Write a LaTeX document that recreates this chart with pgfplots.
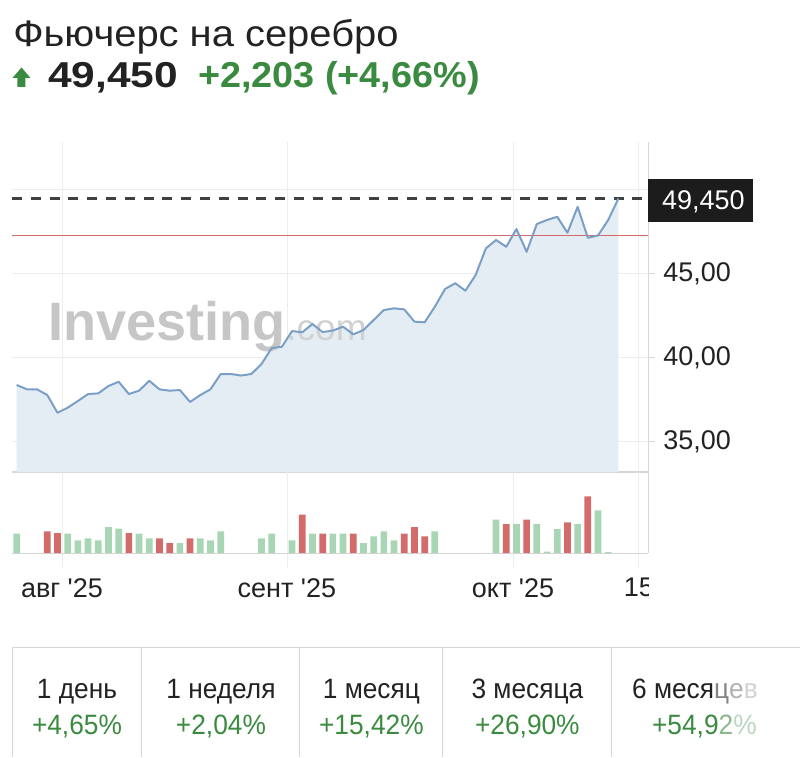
\documentclass[border=0pt]{standalone}
\usepackage{fontspec}
\setmainfont{Liberation Sans}
\usepackage{pgfplots}
\pgfplotsset{compat=1.18}

\definecolor{txt}{HTML}{222222}
\definecolor{upgreen}{HTML}{3A8A40}
\definecolor{linebl}{HTML}{7A9FC6}
\definecolor{areabl}{HTML}{E4ECF4}
\definecolor{volg}{HTML}{A8D5B3}
\definecolor{volr}{HTML}{D46B6B}
\definecolor{gridc}{HTML}{EDEDED}
\definecolor{axc}{HTML}{D6D6D6}
\definecolor{wm}{HTML}{C6C6C6}
\definecolor{tagbg}{HTML}{1C1C1C}

% 1 px of the reference = 0.025cm = 0.7113pt
\newcommand\tickfont{\fontsize{19.2pt}{22pt}\selectfont}
\newcommand\cellfont{\fontsize{19.9pt}{23pt}\selectfont}

\begin{document}
\begin{tikzpicture}
\path[use as bounding box] (0,0) rectangle (20cm,-18.925cm);

% price panel
\begin{axis}[
    at={(0.3cm,-11.8cm)}, anchor=south west,
    scale only axis, width=15.9cm, height=8.25cm,
    xmin=-0.46, xmax=61.9, ymin=33.2, ymax=52.8,
    axis x line*=bottom, axis y line*=right,
    x axis line style={draw=axc, line width=1.4pt},
    y axis line style={draw=axc, line width=0.7pt},
    xtick={4.44,26.5,48.66,61.0}, xticklabels={},
    x tick style={draw=none},
    ytick={35,40,45,50}, yticklabels={{35,00},{40,00},{45,00},{}},
    y tick style={draw=axc, line width=0.6pt},
    tick align=outside, major tick length=0.175cm,
    yticklabel style={font=\tickfont, text=txt, anchor=west, inner sep=0pt, xshift=0.2cm},
    xmajorgrids, ymajorgrids, grid style={gridc, line width=0.6pt},
]
\addplot[draw=none, fill=areabl] coordinates {
(0,38.37) (1,38.11) (2,38.11) (3,37.77) (4,36.72) (5,37.02) (6,37.42) (7,37.83)
(8,37.87) (9,38.31) (10,38.56) (11,37.83) (12,38.03) (13,38.62) (14,38.11) (15,38.03)
(16,38.07) (17,37.36) (18,37.77) (19,38.11) (20,39.02) (21,39.02) (22,38.93) (23,39.02)
(24,39.61) (25,40.56) (26,40.64) (27,41.57) (28,41.50) (29,41.99) (30,41.51) (31,41.60)
(32,41.83) (33,41.38) (34,41.63) (35,42.23) (36,42.82) (37,42.92) (38,42.86) (39,42.13)
(40,42.09) (41,43.02) (42,44.07) (43,44.41) (44,43.97) (45,44.90) (46,46.48) (47,46.98)
(48,46.58) (49,47.63) (50,46.28) (51,47.93) (52,48.17) (53,48.36) (54,47.41) (55,48.95)
(56,47.11) (57,47.25) (58,48.17) (59,49.45)
} \closedcycle;
\node[anchor=base west, inner sep=0pt, text=wm, font=\fontsize{38.5pt}{42pt}\selectfont\bfseries]
  (wm) at (axis cs:3.07,41.04) {Investing};
\node[anchor=base west, inner sep=0pt, text=wm!80, font=\fontsize{26.3pt}{30pt}\selectfont]
  at (wm.base east) {.com};
% previous close
\addplot[draw=volr, mark=none, line width=1.2pt] coordinates {(-0.46,47.247) (61.9,47.247)};
\addplot[draw=black!75, mark=none, line width=2.1pt, dash pattern=on 0.25cm off 0.22cm]
  coordinates {(-0.46,49.45) (61.9,49.45)};
\addplot[draw=linebl, mark=none, line width=1.4pt, line join=round] coordinates {
(0,38.37) (1,38.11) (2,38.11) (3,37.77) (4,36.72) (5,37.02) (6,37.42) (7,37.83)
(8,37.87) (9,38.31) (10,38.56) (11,37.83) (12,38.03) (13,38.62) (14,38.11) (15,38.03)
(16,38.07) (17,37.36) (18,37.77) (19,38.11) (20,39.02) (21,39.02) (22,38.93) (23,39.02)
(24,39.61) (25,40.56) (26,40.64) (27,41.57) (28,41.50) (29,41.99) (30,41.51) (31,41.60)
(32,41.83) (33,41.38) (34,41.63) (35,42.23) (36,42.82) (37,42.92) (38,42.86) (39,42.13)
(40,42.09) (41,43.02) (42,44.07) (43,44.41) (44,43.97) (45,44.90) (46,46.48) (47,46.98)
(48,46.58) (49,47.63) (50,46.28) (51,47.93) (52,48.17) (53,48.36) (54,47.41) (55,48.95)
(56,47.11) (57,47.25) (58,48.17) (59,49.45)
};
\end{axis}

% volume panel
\begin{axis}[
    at={(0.3cm,-13.825cm)}, anchor=south west,
    scale only axis, width=15.9cm, height=2.025cm,
    xmin=-0.46, xmax=61.9, ymin=0, ymax=81,
    axis x line*=bottom, axis y line*=right,
    x axis line style={draw=axc, line width=0.7pt},
    y axis line style={draw=axc, line width=0.7pt},
    ytick=\empty,
    xtick={4.44,26.5,48.66,61.0},
    xticklabels={авг \textquotesingle25, сент \textquotesingle25, окт \textquotesingle25, 15},
    tick align=outside, major tick length=0.375cm,
    x tick style={draw=gridc, line width=0.6pt},
    xticklabel style={font=\tickfont, text=txt, anchor=north, inner sep=0pt, yshift=-0.25cm},
    xmajorgrids, grid style={gridc, line width=0.6pt},
]
\addplot[ybar, bar shift=0pt, bar width=0.1675cm, fill=volg, draw=none] coordinates {
(0,19.3) (5,19.3) (6,12.7) (7,14.7) (8,12.7) (9,26) (10,24.3) (12,19.3) (13,14.7)
(16,10) (18,14.7) (19,12.7) (20,21.7) (24,14.7) (25,19.3) (27,12.7) (29,19.3)
(31,19.3) (32,19.3) (34,10) (35,16.7) (36,21.7) (37,12.7) (41,21.7) (47,33.3)
(49,29) (51,29) (52,1.3) (53,24) (55,29) (57,42.7) (58,1)
};
\addplot[ybar, bar shift=0pt, bar width=0.1675cm, fill=volr, draw=none] coordinates {
(3,21.7) (4,20) (11,20) (14,14.7) (15,10) (17,14.7) (28,38.3) (30,19.3) (33,19.3)
(38,19.3) (39,26) (40,16.7) (48,29) (50,33.3) (54,30.7) (56,56.7)
};
\end{axis}

\begin{scope}[x=0.025cm, y=-0.025cm]
% header
\node[anchor=base west, inner sep=0pt, text=txt,
  font=\fontsize{26.3pt}{30pt}\selectfont\addfontfeature{FakeStretch=1.08}]
  at (13,47) {Фьючерс на серебро};
\fill[upgreen] (12.5,78) -- (21.5,67.5) -- (30.5,78) -- (25.5,78) -- (25.5,87)
  -- (17.5,87) -- (17.5,78) -- cycle;
\node[anchor=base west, inner sep=0pt, text=txt,
  font=\fontsize{25.6pt}{30pt}\selectfont\bfseries\addfontfeature{FakeStretch=1.18}]
  at (48,88) {49,450};
\node[anchor=base west, inner sep=0pt, text=upgreen,
  font=\fontsize{25.6pt}{30pt}\selectfont\bfseries\addfontfeature{FakeStretch=1.05}]
  at (198,88) {+2,203 (+4,66\%)};
% last price tag
\fill[tagbg] (648,179) rectangle (753,222);
\node[anchor=base west, inner sep=0pt, text=white, font=\tickfont] at (662,210) {49,450};
% the "15" label is cut at the panel edge
\fill[white] (649.5,562) rectangle (720,615);
% returns row
\draw[axc, line width=0.7pt] (12,648) -- (800,648);
\foreach \xx in {12,142,300,443,612} \draw[axc, line width=0.7pt] (\xx,648) -- (\xx,757);
\foreach \xx/\lab/\val in {77/1 день/+4{,}65\%, 221/1 неделя/+2{,}04\%,
    371.5/1 месяц/+15{,}42\%, 527.5/3 месяца/+26{,}90\%} {
  \node[anchor=base, inner sep=0pt, text=txt, font=\cellfont\addfontfeature{FakeStretch=0.94}]
    at (\xx,699) {\lab};
  \node[anchor=base, inner sep=0pt, text=upgreen, font=\cellfont\addfontfeature{FakeStretch=0.94}]
    at (\xx,735) {\val};
}
\node[anchor=base west, inner sep=0pt, text=txt, font=\cellfont\addfontfeature{FakeStretch=0.94}]
  at (632,699) {6 меся\textcolor{txt!55}{ц}\textcolor{txt!35}{е}\textcolor{txt!20}{в}};
\node[anchor=base west, inner sep=0pt, text=upgreen, font=\cellfont\addfontfeature{FakeStretch=0.94}]
  at (652,735) {+54,9\textcolor{upgreen!60}{2}\textcolor{upgreen!35}{\%}};
\end{scope}
\end{tikzpicture}
\end{document}
